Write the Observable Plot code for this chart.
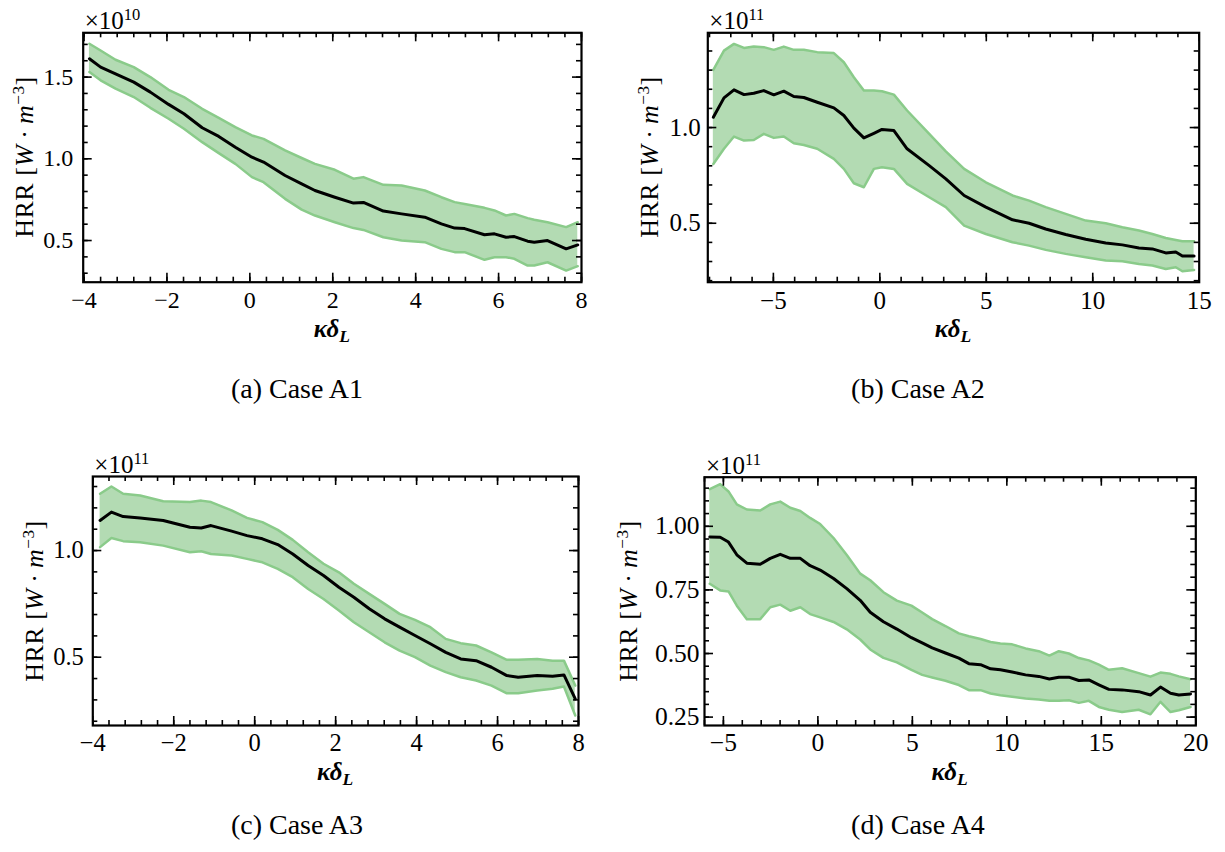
<!DOCTYPE html>
<html><head><meta charset="utf-8">
<script src="https://cdn.jsdelivr.net/npm/d3@7"></script>
<script src="https://cdn.jsdelivr.net/npm/@observablehq/plot@0.6"></script>
<style>
body{margin:0;background:#fff;}
#root{position:relative;width:1225px;height:852px;font-family:"Liberation Serif",serif;color:#000;background:#fff;overflow:hidden;}
.abs{position:absolute;white-space:nowrap;line-height:1;}
.abs sup{font-size:0.66em;line-height:0;vertical-align:0.55em;}
.abs sub{font-size:0.7em;line-height:0;vertical-align:-0.3em;}
svg{position:absolute;}
</style></head><body><div id="root"></div>
<script>
// ---------- Case A1 ----------
const a1X = [-3.87,-3.6,-3.24,-2.80,-2.40,-1.96,-1.59,-1.15,-0.75,-0.35,0.05,0.33,0.85,1.25,1.57,2.05,2.50,2.74,3.22,3.66,4.22,4.62,4.94,5.18,5.66,5.90,6.18,6.38,6.70,6.86,7.18,7.63,7.91];
const a1Mean = [1.612,1.561,1.520,1.469,1.408,1.333,1.276,1.190,1.137,1.071,1.010,0.980,0.898,0.847,0.806,0.765,0.729,0.733,0.680,0.663,0.643,0.602,0.576,0.573,0.535,0.541,0.520,0.524,0.496,0.490,0.500,0.449,0.473];
const a1Upper = [1.704,1.663,1.606,1.561,1.500,1.422,1.378,1.306,1.251,1.194,1.143,1.122,1.051,1.005,0.969,0.933,0.878,0.888,0.841,0.837,0.806,0.765,0.735,0.724,0.700,0.684,0.653,0.663,0.637,0.627,0.612,0.582,0.612];
const a1Lower = [1.531,1.480,1.429,1.378,1.312,1.245,1.184,1.102,1.035,0.969,0.888,0.857,0.755,0.689,0.653,0.612,0.576,0.565,0.520,0.500,0.490,0.449,0.429,0.429,0.382,0.398,0.398,0.388,0.347,0.347,0.367,0.316,0.343];
const a1XTicks = [-4,-2,0,2,4,6,8];
const a1YTicks = [0.5,1.0,1.5];

// ---------- Case A2 ----------
const a2X = [-7.82,-7.32,-6.85,-6.38,-5.92,-5.45,-4.98,-4.51,-4.04,-3.57,-2.94,-2.16,-1.69,-1.22,-0.75,-0.28,0.1,0.66,1.28,2.32,3.10,3.96,4.98,6.23,7.01,7.79,8.73,9.67,10.61,11.39,12.17,12.80,13.43,13.90,14.21,14.76];
const a2Mean = [1.054,1.155,1.197,1.172,1.179,1.193,1.171,1.190,1.162,1.157,1.132,1.103,1.063,0.997,0.946,0.970,0.990,0.984,0.889,0.801,0.732,0.645,0.584,0.518,0.500,0.470,0.441,0.416,0.397,0.387,0.371,0.366,0.345,0.350,0.329,0.329];
const a2Upper = [1.301,1.402,1.437,1.416,1.423,1.420,1.406,1.423,1.406,1.406,1.394,1.389,1.341,1.263,1.193,1.193,1.190,1.172,1.089,0.967,0.876,0.784,0.714,0.645,0.618,0.584,0.549,0.514,0.500,0.479,0.462,0.444,0.423,0.413,0.406,0.406];
const a2Lower = [0.810,0.889,0.953,0.932,0.935,0.967,0.946,0.953,0.918,0.909,0.889,0.836,0.784,0.709,0.688,0.784,0.793,0.784,0.706,0.636,0.584,0.488,0.444,0.401,0.383,0.361,0.340,0.322,0.305,0.301,0.287,0.279,0.261,0.270,0.249,0.256];
const a2XTicks = [-5,0,5,10,15];
const a2YTicks = [0.5,1.0];

// ---------- Case A3 ----------
const a3X = [-3.82,-3.54,-3.25,-2.83,-2.26,-1.60,-1.32,-1.08,-0.57,-0.19,0.19,0.57,0.94,1.32,1.70,2.08,2.45,2.83,3.21,3.58,3.96,4.34,4.72,5.09,5.47,5.85,6.23,6.51,6.98,7.36,7.64,7.92];
const a3Mean = [1.141,1.180,1.159,1.153,1.141,1.109,1.106,1.117,1.091,1.070,1.055,1.028,0.984,0.930,0.883,0.828,0.781,0.727,0.680,0.641,0.602,0.563,0.523,0.492,0.484,0.453,0.414,0.406,0.414,0.411,0.417,0.305];
const a3Upper = [1.266,1.300,1.266,1.258,1.231,1.227,1.234,1.227,1.188,1.153,1.133,1.097,1.050,0.992,0.938,0.898,0.844,0.797,0.750,0.703,0.675,0.641,0.586,0.566,0.555,0.523,0.488,0.488,0.492,0.484,0.484,0.367];
const a3Lower = [1.016,1.059,1.044,1.039,1.023,0.992,0.997,0.984,0.977,0.961,0.945,0.914,0.875,0.820,0.773,0.719,0.664,0.617,0.570,0.531,0.500,0.461,0.430,0.406,0.391,0.367,0.331,0.331,0.344,0.352,0.363,0.227];
const a3XTicks = [-4,-2,0,2,4,6,8];
const a3YTicks = [0.5,1.0];

// ---------- Case A4 ----------
const a4X = [-5.72,-5.17,-4.73,-4.29,-3.76,-3.05,-2.52,-1.99,-1.46,-0.93,-0.41,0.12,0.83,1.53,2.24,2.77,3.47,4.18,4.95,5.52,6.05,6.75,7.46,7.99,8.61,9.14,9.66,10.28,10.99,11.69,12.25,12.75,13.28,13.81,14.34,14.87,15.40,16.10,16.98,17.60,18.13,18.66,19.10,19.72];
const a4Mean = [0.958,0.957,0.938,0.888,0.855,0.851,0.874,0.890,0.874,0.874,0.845,0.828,0.795,0.755,0.709,0.662,0.625,0.596,0.562,0.542,0.522,0.502,0.482,0.460,0.456,0.440,0.436,0.427,0.416,0.410,0.400,0.407,0.407,0.394,0.396,0.377,0.359,0.357,0.350,0.337,0.368,0.344,0.337,0.341];
const a4Upper = [1.146,1.166,1.137,1.086,1.066,1.062,1.086,1.097,1.073,1.060,1.033,1.009,0.954,0.887,0.814,0.788,0.741,0.708,0.688,0.661,0.635,0.608,0.579,0.568,0.557,0.545,0.539,0.536,0.520,0.509,0.492,0.509,0.500,0.482,0.473,0.456,0.436,0.442,0.423,0.409,0.425,0.420,0.410,0.399];
const a4Lower = [0.774,0.748,0.744,0.688,0.635,0.635,0.682,0.692,0.668,0.682,0.655,0.642,0.624,0.595,0.555,0.516,0.483,0.465,0.436,0.416,0.406,0.393,0.376,0.356,0.356,0.343,0.336,0.330,0.323,0.319,0.314,0.314,0.316,0.306,0.314,0.290,0.279,0.270,0.279,0.261,0.310,0.270,0.277,0.290];
const a4XTicks = [-5,0,5,10,15,20];
const a4YTicks = [0.25,0.50,0.75,1.00];

const captions = ["(a) Case A1","(b) Case A2","(c) Case A3","(d) Case A4"];
const exponents = ["10","11","11","11"];

const FILL = "#b3dbb3";
const EDGE = "#8acb8a";
const FONT = "'Liberation Serif', serif";

const root = document.getElementById("root");

const minus = d => (d < 0 ? "\u2212" + Math.abs(d) : String(d));

function addText(html, style) {
  const d = document.createElement("div");
  d.className = "abs";
  d.innerHTML = html;
  Object.assign(d.style, style);
  root.appendChild(d);
}

function panel(cfg) {
  const rows = cfg.x.map((x, i) => ({x, m: cfg.mean[i], lo: cfg.lower[i], hi: cfg.upper[i]}));
  const innerH = cfg.height - cfg.mt - cfg.mb;
  const innerW = cfg.width - cfg.ml - cfg.mr;
  const MAJ = 9, MIN = 5;
  const xMinor = d3.range(cfg.xMinor[0], cfg.xMinor[1] + 1e-9, cfg.xMinor[2]).map(v => +v.toFixed(4));
  const yMinor = d3.range(cfg.yMinor[0], cfg.yMinor[1] + 1e-9, cfg.yMinor[2]).map(v => +v.toFixed(4));
  const tk = {stroke: "#000", strokeWidth: 1.6};
  const svg = Plot.plot({
    width: cfg.width, height: cfg.height,
    marginLeft: cfg.ml, marginRight: cfg.mr, marginTop: cfg.mt, marginBottom: cfg.mb,
    x: {domain: cfg.xDomain},
    y: {domain: cfg.yDomain},
    style: {fontFamily: FONT, fontSize: cfg.fs + "px", color: "#000", background: "transparent", overflow: "visible"},
    marks: [
      Plot.areaY(rows, {x: "x", y1: "lo", y2: "hi", fill: FILL}),
      Plot.lineY(rows, {x: "x", y: "hi", stroke: EDGE, strokeWidth: 2.5}),
      Plot.lineY(rows, {x: "x", y: "lo", stroke: EDGE, strokeWidth: 2.5}),
      Plot.lineY(rows, {x: "x", y: "m", stroke: "#000", strokeWidth: 3}),
      // inward ticks on all four sides
      Plot.tickX(cfg.xTicks, {x: d => d, insetTop: innerH - MAJ, ...tk}),
      Plot.tickX(cfg.xTicks, {x: d => d, insetBottom: innerH - MAJ, ...tk}),
      Plot.tickX(xMinor, {x: d => d, insetTop: innerH - MIN, ...tk}),
      Plot.tickX(xMinor, {x: d => d, insetBottom: innerH - MIN, ...tk}),
      Plot.tickY(cfg.yTicks, {y: d => d, insetRight: innerW - MAJ, ...tk}),
      Plot.tickY(cfg.yTicks, {y: d => d, insetLeft: innerW - MAJ, ...tk}),
      Plot.tickY(yMinor, {y: d => d, insetRight: innerW - MIN, ...tk}),
      Plot.tickY(yMinor, {y: d => d, insetLeft: innerW - MIN, ...tk}),
      Plot.axisX(cfg.xTicks, {tickSize: 0, tickPadding: cfg.xPad, tickFormat: minus, label: null, fontSize: cfg.fs}),
      Plot.axisY(cfg.yTicks, {tickSize: 0, tickPadding: cfg.yPad, tickFormat: d3.format(cfg.yFmt), label: null, fontSize: cfg.fs}),
      Plot.frame({stroke: "#000", strokeWidth: 2.2})
    ]
  });
  svg.style.left = cfg.left + "px";
  svg.style.top = cfg.top + "px";
  root.appendChild(svg);

  // offset (multiplier) text above the frame
  addText(`×10<sup>${cfg.exp}</sup>`, {left: (cfg.left + cfg.ml + 2) + "px", top: (cfg.top + cfg.mt - 24) + "px", fontSize: "25px"});
  // y label
  const cy = cfg.top + cfg.mt + innerH / 2;
  addText(`HRR [<i>W</i>&thinsp;·&thinsp;<i>m</i><sup>−3</sup>]`, {left: cfg.ylabelX + "px", top: cy + "px", fontSize: "26px", letterSpacing: "0.5px", transform: "translate(-50%,-50%) rotate(-90deg)"});
  // x label
  const cx = cfg.left + cfg.ml + innerW / 2;
  addText(`<i>κδ</i><sub><i>L</i></sub>`, {left: cx + "px", top: (cfg.top + cfg.height - cfg.mb + 46) + "px", fontSize: "25px", fontWeight: "bold", transform: "translate(-50%,-50%)"});
  // sub-figure caption
  addText(cfg.caption, {left: cfg.capX + "px", top: cfg.capY + "px", fontSize: "28px", transform: "translate(-50%,-50%)"});
}

panel({left: 0, top: 0, width: 610, height: 345, ml: 82.7, mr: 29, mt: 32.3, mb: 63.3,
  x: a1X, mean: a1Mean, upper: a1Upper, lower: a1Lower,
  xDomain: [-4.02, 8], yDomain: [0.245, 1.771], xTicks: a1XTicks, yTicks: a1YTicks,
  xMinor: [-4, 8, 0.4], yMinor: [0.3, 1.7, 0.1], yFmt: ".1f", fs: 24, xPad: 9, yPad: 10,
  exp: exponents[0], ylabelX: 25, caption: captions[0], capX: 297, capY: 389});

panel({left: 610, top: 0, width: 615, height: 345, ml: 97.3, mr: 26.3, mt: 32.3, mb: 63.3,
  x: a2X, mean: a2Mean, upper: a2Upper, lower: a2Lower,
  xDomain: [-8.08, 15], yDomain: [0.192, 1.495], xTicks: a2XTicks, yTicks: a2YTicks,
  xMinor: [-8, 15, 1], yMinor: [0.2, 1.4, 0.1], yFmt: ".1f", fs: 25, xPad: 9, yPad: 7,
  exp: exponents[1], ylabelX: 650, caption: captions[1], capX: 918, capY: 389});

panel({left: 0, top: 440, width: 610, height: 345, ml: 92.3, mr: 32, mt: 36, mb: 60,
  x: a3X, mean: a3Mean, upper: a3Upper, lower: a3Lower,
  xDomain: [-4, 8], yDomain: [0.18, 1.347], xTicks: a3XTicks, yTicks: a3YTicks,
  xMinor: [-4, 8, 0.4], yMinor: [0.2, 1.3, 0.1], yFmt: ".1f", fs: 24.5, xPad: 8, yPad: 9,
  exp: exponents[2], ylabelX: 35, caption: captions[2], capX: 297, capY: 825});

panel({left: 610, top: 440, width: 615, height: 345, ml: 94, mr: 29.7, mt: 36.7, mb: 60,
  x: a4X, mean: a4Mean, upper: a4Upper, lower: a4Lower,
  xDomain: [-6, 20], yDomain: [0.217, 1.193], xTicks: a4XTicks, yTicks: a4YTicks,
  xMinor: [-6, 20, 1], yMinor: [0.25, 1.15, 0.05], yFmt: ".2f", fs: 25.5, xPad: 7, yPad: 5,
  exp: exponents[3], ylabelX: 629, caption: captions[3], capX: 918, capY: 825});
</script></body></html>
